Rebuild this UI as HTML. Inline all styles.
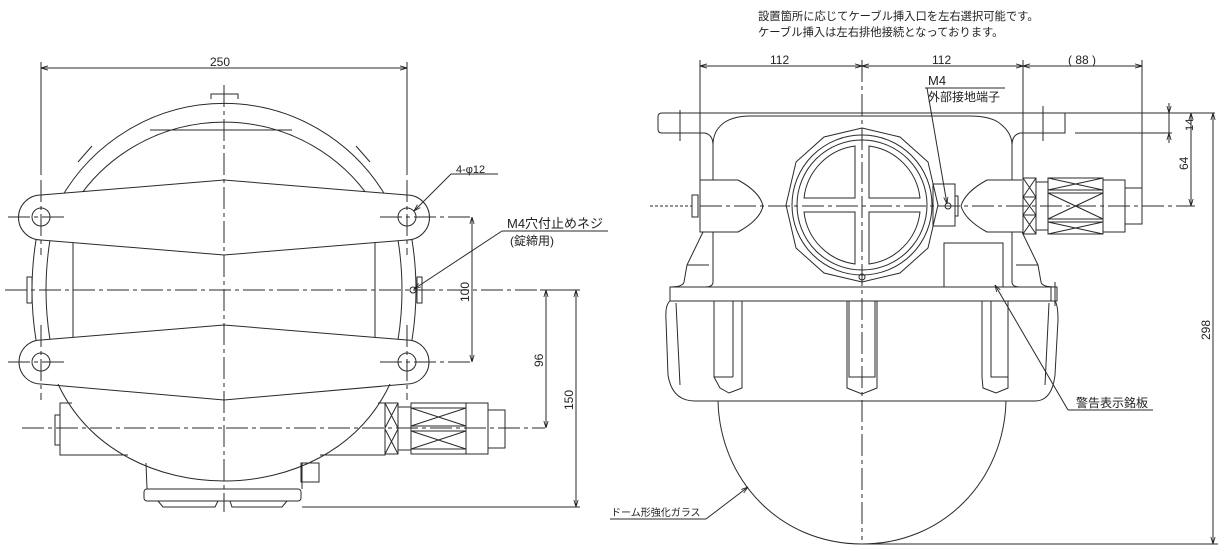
<!DOCTYPE html>
<html><head><meta charset="utf-8"><style>
html,body{margin:0;padding:0;background:#fff}
svg{display:block}
text{font-family:"Liberation Sans","Noto Sans CJK JP",sans-serif;fill:#222}
</style></head><body>
<svg width="1224" height="559" viewBox="0 0 1224 559" xmlns="http://www.w3.org/2000/svg">
<defs>
<marker id="a" viewBox="0 0 10 10" refX="10" refY="5" markerWidth="7" markerHeight="7" orient="auto-start-reverse"><path d="M0,2 L10,5 L0,8" fill="none" stroke="#222" stroke-width="1.2"/></marker>
</defs>
<g fill="none" stroke="#2a2a2a" stroke-width="1">
<!-- ===== LEFT VIEW ===== -->
<path d="M60,200 A189,192 0 0 1 388,200"/>
<path d="M77,200 A176,173 0 0 1 371,200"/>
<line x1="150" y1="130" x2="292" y2="130"/>
<path d="M211,99 L211,94 L238,94 L238,99"/>
<path d="M78,162 L92,146 M356,146 L370,162"/>
<path d="M36,240 Q28,290 36,340"/>
<path d="M50,240 Q42,290 50,340"/>
<path d="M412,240 Q420,290 412,340"/>
<path d="M398,240 Q406,290 398,340"/>
<rect x="27" y="277" width="5" height="26"/>
<rect x="417" y="277" width="5" height="26"/>
<line x1="73" y1="240" x2="73" y2="340"/>
<line x1="375" y1="240" x2="375" y2="340"/>
<path d="M41,195 L224,180 L407,195 A22.5,22.5 0 0 1 407,240 L224,255 L41,240 A22.5,22.5 0 0 1 41,195 Z" fill="#fff"/>
<path d="M41,340 L224,325 L407,340 A22,22 0 0 1 407,384 L224,400 L41,384 A22,22 0 0 1 41,340 Z" fill="#fff"/>
<ellipse cx="41" cy="217" rx="9" ry="9"/><ellipse cx="407" cy="217" rx="9" ry="9"/>
<ellipse cx="41" cy="362" rx="9" ry="9"/><ellipse cx="407" cy="362" rx="9" ry="9"/>
<path d="M58,384 C90,452 160,481 224,481 C288,481 358,452 390,384"/>
<path d="M72,403 L60,403 L60,455 L128,455"/>
<path d="M60,415 L55,415 L55,445 L60,445"/>
<path d="M320,455 L385,455 L385,403 L378,403"/>
<path d="M146,463 L147,489 M302,463 L302,489"/>
<rect x="144" y="489" width="157" height="12" rx="3"/>
<path d="M158,501 L163,507 L215,507 L218,501 M230,501 L232,507 L282,507 L287,501"/>
<rect x="301" y="463" width="18" height="19"/>
<rect x="385" y="403" width="13" height="51"/>
<path d="M385,403 L398,428 M398,403 L385,428 M385,429 L398,454 M398,429 L385,454"/>
<rect x="398" y="407" width="13" height="43"/>
<rect x="411" y="403" width="55" height="51"/>
<path d="M411,408 L466,408 M411,449 L466,449 M411,426 L466,426 M411,431 L466,431"/>
<path d="M411,408 L466,426 M466,408 L411,426 M411,431 L466,449 M466,431 L411,449"/>
<rect x="466" y="403" width="22" height="51"/>
<rect x="488" y="410" width="17" height="38"/>
<circle cx="413" cy="290" r="3"/>
</g>
<g stroke="#2a2a2a" stroke-width="1" stroke-dasharray="22,4,4,4" fill="none">
<line x1="224" y1="85" x2="224" y2="512"/>
<line x1="5" y1="290" x2="540" y2="290"/>
<line x1="22" y1="428" x2="545" y2="428"/>
<line x1="8" y1="217" x2="68" y2="217"/><line x1="380" y1="217" x2="470" y2="217"/>
<line x1="8" y1="362" x2="68" y2="362"/><line x1="380" y1="362" x2="470" y2="362"/>
<line x1="41" y1="180" x2="41" y2="255"/><line x1="407" y1="180" x2="407" y2="255"/>
<line x1="41" y1="325" x2="41" y2="400"/><line x1="407" y1="325" x2="407" y2="400"/>
</g>
<g stroke="#2a2a2a" stroke-width="1" fill="none">
<line x1="41" y1="62" x2="41" y2="175"/><line x1="407" y1="62" x2="407" y2="175"/>
<line x1="41" y1="68" x2="407" y2="68" marker-start="url(#a)" marker-end="url(#a)"/>
<line x1="472" y1="217" x2="472" y2="362" marker-start="url(#a)" marker-end="url(#a)"/>
<line x1="546" y1="290" x2="546" y2="428" marker-start="url(#a)" marker-end="url(#a)"/>
<line x1="576" y1="290" x2="576" y2="507" marker-start="url(#a)" marker-end="url(#a)"/>
<line x1="540" y1="290" x2="580" y2="290"/>
<line x1="302" y1="507" x2="580" y2="507"/>
<line x1="451" y1="174" x2="498" y2="174"/>
<line x1="451" y1="174" x2="414" y2="211" marker-end="url(#a)"/>
<line x1="502" y1="231" x2="608" y2="231"/>
<line x1="502" y1="231" x2="414" y2="289" marker-end="url(#a)"/>
</g>
<text x="210" y="66" font-size="12">250</text>
<text x="456" y="173" font-size="11">4-φ12</text>
<text x="507" y="228" font-size="13">M4穴付止めネジ</text>
<text x="510" y="245" font-size="12">(錠締用)</text>
<text transform="translate(469,302) rotate(-90)" font-size="12">100</text>
<text transform="translate(543,367) rotate(-90)" font-size="12">96</text>
<text transform="translate(573,410) rotate(-90)" font-size="12">150</text>

<g fill="none" stroke="#2a2a2a" stroke-width="1">
<path d="M1215,113 L662,113 Q658,113 658,117 L658,129 Q658,133 662,133 L705,133"/>
<path d="M1020,133 L1065,133 L1065,113"/>
<path d="M1172,133 L1075,133"/>
<line x1="680" y1="110" x2="680" y2="141"/><line x1="1043" y1="106" x2="1043" y2="141"/>
<path d="M713,180 L713,145 Q713,130 725,122 Q735,116 750,116 L970,116 Q988,116 998,122 Q1012,132 1012,145 L1012,180"/>
<path d="M705,133 Q713,135 713,145 M1020,133 Q1012,135 1012,145"/>
<path d="M713,232 L713,282 Q713,287 705,287"/>
<path d="M703,232 L687,265 L684,282 Q683,287 670,287"/>
<line x1="687" y1="265" x2="709" y2="265"/>
<path d="M1012,232 L1012,282 Q1012,287 1020,287"/>
<path d="M1022,232 L1038,265 L1041,282 Q1042,287 1055,287"/>
<line x1="1016" y1="265" x2="1038" y2="265"/>
<polygon points="862,128 900,137 928,162 938,205 928,248 900,273 862,282 824,273 796,248 786,205 796,162 824,137"/>
<circle cx="862" cy="205" r="70"/>
<circle cx="862" cy="205" r="65"/>
<path d="M869,198 L869,146 A59,59 0 0 1 920,198 Z"/>
<path d="M855,198 L855,146 A59,59 0 0 0 804,198 Z"/>
<path d="M869,212 L869,264 A59,59 0 0 0 920,212 Z"/>
<path d="M855,212 L855,264 A59,59 0 0 1 804,212 Z"/>
<circle cx="862" cy="277" r="3"/>
<path d="M700,180 L738,180 Q760,192 763,206 Q760,220 738,232 L700,232 Z"/>
<rect x="692" y="195" width="6" height="22"/>
<path d="M1022,180 L987,180 Q965,192 961,206 Q965,220 987,232 L1022,232"/>
<rect x="933" y="184" width="22" height="42"/>
<rect x="955" y="196" width="3" height="20"/>
<circle cx="948" cy="206" r="3"/>
<rect x="944" y="243" width="59" height="44"/>
<rect x="1023" y="178" width="13" height="56"/>
<path d="M1023,197 L1036,197 M1023,215 L1036,215"/>
<path d="M1023,178 L1036,197 M1036,178 L1023,197 M1023,197 L1036,215 M1036,197 L1023,215 M1023,215 L1036,234 M1036,215 L1023,234"/>
<rect x="1036" y="182" width="12" height="48"/>
<rect x="1048" y="178" width="55" height="56"/>
<path d="M1048,190 L1103,190 M1048,193 L1103,193 M1048,219 L1103,219 M1048,222 L1103,222"/>
<path d="M1048,178 L1103,190 M1103,178 L1048,190 M1048,193 L1103,219 M1103,193 L1048,219 M1048,222 L1103,234 M1103,222 L1048,234"/>
<rect x="1103" y="180" width="22" height="52"/>
<rect x="1125" y="188" width="17" height="36"/>
<rect x="670" y="287" width="387" height="14"/>
<rect x="1051" y="287" width="6" height="14"/>
<line x1="1055" y1="282" x2="1055" y2="306"/>
<path d="M670,301 Q665,305 666,320 L668,375 Q672,401 695,401 L1035,401 Q1052,401 1055,375 L1058,320 Q1058,305 1055,301"/>
<path d="M676,303 L680,385 M1049,303 L1045,385"/>
<path d="M714,301 L714,377 L720,388 L729,393 L742,388 L742,301 M733,301 L733,377 M714,377 L733,377"/>
<path d="M847,301 L847,388 L862,394 L877,388 L877,301 M849,301 L849,377 L875,377 L875,301"/>
<path d="M1008,301 L1008,388 L996,393 L983,388 L982,377 L982,301 M991,301 L991,377 L1008,377"/>
<path d="M718,401 C720,480 780,544 862,544 C944,544 1004,480 1006,401"/>
</g>
<g stroke="#2a2a2a" stroke-width="1" stroke-dasharray="22,4,4,4" fill="none">
<line x1="862" y1="60" x2="862" y2="540"/>
<line x1="700" y1="206" x2="1195" y2="206"/>
</g>
<line x1="650" y1="206" x2="692" y2="206" stroke="#2a2a2a" stroke-width="1" stroke-dasharray="3,2"/>
<g stroke="#2a2a2a" stroke-width="1" fill="none">
<line x1="700" y1="60" x2="700" y2="180"/>
<line x1="1023" y1="60" x2="1023" y2="178"/>
<line x1="1142" y1="60" x2="1142" y2="188"/>
<line x1="700" y1="66" x2="862" y2="66" marker-start="url(#a)" marker-end="url(#a)"/>
<line x1="862" y1="66" x2="1023" y2="66" marker-start="url(#a)" marker-end="url(#a)"/>
<line x1="1023" y1="66" x2="1142" y2="66" marker-start="url(#a)" marker-end="url(#a)"/>
<line x1="1169" y1="103" x2="1169" y2="113" marker-end="url(#a)"/>
<line x1="1169" y1="143" x2="1169" y2="133" marker-end="url(#a)"/>
<line x1="1169" y1="113" x2="1169" y2="133"/>
<line x1="1191" y1="113" x2="1191" y2="206" marker-start="url(#a)" marker-end="url(#a)"/>
<line x1="1213" y1="113" x2="1213" y2="544" marker-start="url(#a)" marker-end="url(#a)"/>
<line x1="862" y1="544" x2="1218" y2="544"/>
<line x1="925" y1="88" x2="1005" y2="88"/>
<line x1="927" y1="88" x2="947" y2="204" marker-end="url(#a)"/>
<line x1="1068" y1="410" x2="1153" y2="410"/>
<line x1="1068" y1="410" x2="995" y2="285" marker-end="url(#a)"/>
<line x1="610" y1="519" x2="706" y2="519"/>
<line x1="706" y1="519" x2="748" y2="487" marker-end="url(#a)"/>
</g>
<text x="758" y="20" font-size="11.3">設置箇所に応じてケーブル挿入口を左右選択可能です。</text>
<text x="758" y="36" font-size="11.3">ケーブル挿入は左右排他接続となっております。</text>
<text x="770" y="64" font-size="12">112</text>
<text x="932" y="64" font-size="12">112</text>
<text x="1068" y="64" font-size="12">( 88 )</text>
<text x="928" y="85" font-size="13">M4</text>
<text x="928" y="101" font-size="12">外部接地端子</text>
<text transform="translate(1193,131) rotate(-90)" font-size="11">14</text>
<text transform="translate(1188,170) rotate(-90)" font-size="12">64</text>
<text transform="translate(1210,340) rotate(-90)" font-size="12">298</text>
<text x="1076" y="407" font-size="12">警告表示銘板</text>
<text x="611" y="516" font-size="10">ドーム形強化ガラス</text>
</svg>
</body></html>
